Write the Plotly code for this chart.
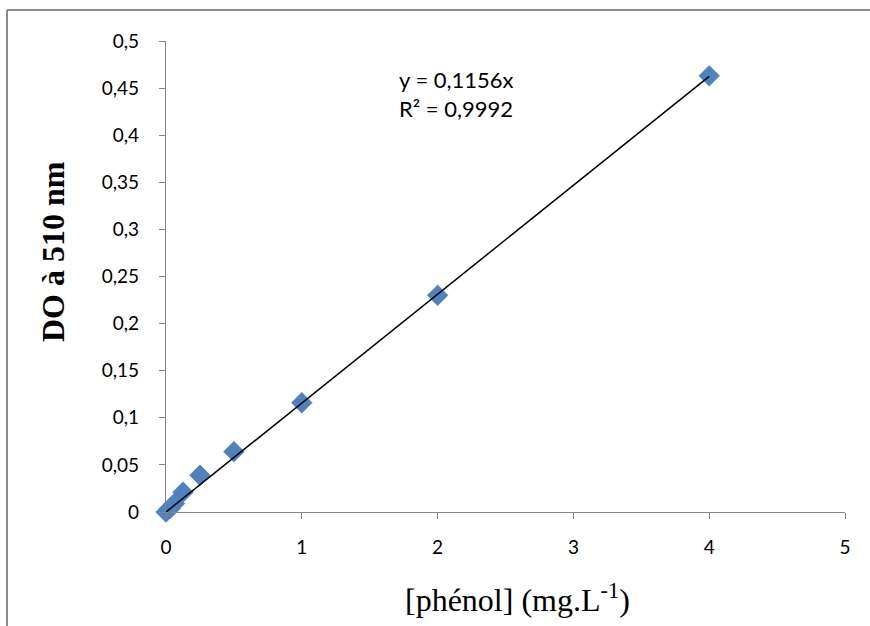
import plotly.graph_objects as go

# Phenol calibration: concentration (mg/L) vs optical density at 510 nm
phenol = [0, 0.03125, 0.0625, 0.125, 0.25, 0.5, 1, 2, 4]
od_510 = [0, 0.004, 0.009, 0.021, 0.039, 0.064, 0.116, 0.230, 0.463]

slope = 0.1156
r2 = 0.9992
fit_x = [0, 4]
fit_y = [slope * v for v in fit_x]

x_ticks = [0, 1, 2, 3, 4, 5]
y_ticks = [0, 0.05, 0.1, 0.15, 0.2, 0.25, 0.3, 0.35, 0.4, 0.45, 0.5]

x_title = "[phénol] (mg.L<sup>-1</sup>)"
y_title = "<b>DO à 510 nm</b>"

W, H = 870, 626
L, R, T, B = 166, 25, 41, 114
pw, ph = W - L - R, H - T - B


def px_x(p):
    """Horizontal page pixel -> paper fraction."""
    return (p - L) / pw


def px_y(p):
    """Vertical page pixel -> paper fraction."""
    return (H - B - p) / ph


axis_grey = "#868686"
frame_grey = "#8c8c8c"
tick_font = dict(family="Lato, Open Sans, sans-serif", size=19, color="#000000")
serif = "Liberation Serif, Times New Roman, serif"

fig = go.Figure()
fig.add_trace(go.Scatter(
    x=phenol, y=od_510, mode="markers",
    marker=dict(symbol="diamond", size=16, color="#4F81BD",
                line=dict(color="#4A7EBB", width=0.5)),
    cliponaxis=False, showlegend=False,
))
fig.add_trace(go.Scatter(
    x=fit_x, y=fit_y, mode="lines",
    line=dict(color="#000000", width=1.5),
    cliponaxis=False, showlegend=False,
))

# chart-area border: only the top and left edges fall inside the page
frame = [
    dict(type="line", xref="paper", yref="paper", x0=px_x(7), x1=px_x(W),
         y0=px_y(10), y1=px_y(10), line=dict(color=frame_grey, width=2), layer="below"),
    dict(type="line", xref="paper", yref="paper", x0=px_x(7), x1=px_x(7),
         y0=px_y(10), y1=px_y(H), line=dict(color=frame_grey, width=2), layer="below"),
]

fig.update_layout(
    width=W, height=H,
    margin=dict(l=L, r=R, t=T, b=B),
    paper_bgcolor="white", plot_bgcolor="white",
    separators=", ",
    shapes=frame,
    xaxis=dict(
        range=[0, 5], tickvals=x_ticks, showgrid=False, zeroline=False,
        showline=True, linecolor=axis_grey, linewidth=1.3,
        ticks="outside", ticklen=6, tickcolor=axis_grey, tickwidth=1.3,
        tickfont=tick_font, ticklabelstandoff=12,
    ),
    yaxis=dict(
        range=[0, 0.5], tickvals=y_ticks, showgrid=False, zeroline=False,
        showline=True, linecolor=axis_grey, linewidth=1.3,
        ticks="outside", ticklen=6, tickcolor=axis_grey, tickwidth=1.3,
        tickfont=tick_font, ticklabelstandoff=16,
    ),
    annotations=[
        dict(x=2.14, y=0.4437, xref="x", yref="y",
             text=f"y = {str(slope).replace('.', ',')}x<br>R² = {str(r2).replace('.', ',')}",
             showarrow=False, align="left", xanchor="center", yanchor="middle",
             font=dict(family="Lato, Open Sans, sans-serif", size=22, color="#000000")),
        dict(x=px_x(517), y=px_y(598), xref="paper", yref="paper",
             text=x_title, showarrow=False, xanchor="center", yanchor="middle",
             font=dict(family=serif, size=32, color="#000000")),
        dict(x=px_x(53), y=px_y(252), xref="paper", yref="paper",
             text=y_title, textangle=-90, showarrow=False,
             xanchor="center", yanchor="middle",
             font=dict(family=serif, size=32, color="#000000")),
    ],
)

fig.write_html("out.html")
